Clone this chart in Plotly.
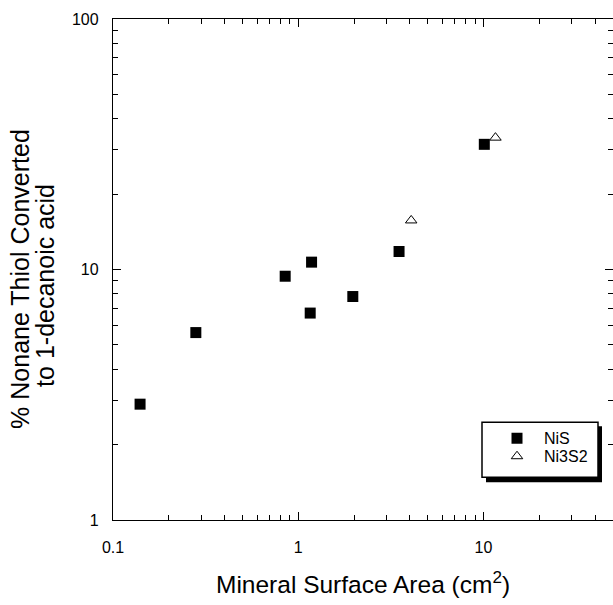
import numpy as np
import plotly.graph_objects as go

# ---- data ----
nis_area = [0.14, 0.28, 0.85, 1.16, 1.18, 1.97, 3.5, 10.1]
nis_pct = [2.9, 5.6, 9.4, 6.7, 10.7, 7.8, 11.8, 31.6]
ni3s2_area = [4.07, 11.6]
ni3s2_pct = [15.7, 33.6]

x_title = "Mineral Surface Area (cm<sup>2</sup>)"
y_title_lines = ["% Nonane Thiol Converted", "to 1-decanoic acid"]
x_range = [0.1, 50]
y_range = [1, 100]

FONT = "Liberation Sans, Arial, Helvetica, sans-serif"

W, H = 613, 605
L, R, T, B = 113, 0, 18.5, 85.3
plot_w = W - L - R
plot_h = H - T - B

def px_to_paper_x(px):
    return (px - L) / plot_w

def px_to_paper_y(py):
    return (H - B - py) / plot_h

fig = go.Figure()
fig.add_trace(go.Scatter(
    x=nis_area, y=nis_pct, mode="markers", name="NiS", legend="legend",
    marker=dict(symbol="square", size=11, color="black", line=dict(width=0)),
))
fig.add_trace(go.Scatter(
    x=ni3s2_area, y=ni3s2_pct, mode="markers", name="Ni3S2", legend="legend2",
    marker=dict(symbol="triangle-up-open", size=10, color="black", line=dict(width=1, color="black")),
))

axis_common = dict(
    type="log", showgrid=False, zeroline=False,
    showline=True, linecolor="black", linewidth=1.3, mirror="ticks",
    ticks="inside", ticklen=8, tickwidth=1, tickcolor="black",
    dtick=1,
    minor=dict(ticks="inside", ticklen=5, tickwidth=1, tickcolor="black", dtick="D1", showgrid=False),
    tickfont=dict(family=FONT, size=16, color="black"),
)

fig.update_xaxes(
    **axis_common,
    range=[np.log10(x_range[0]), np.log10(x_range[1])],
    tickvals=[0.1, 1, 10], ticktext=["0.1", "1", "10"],
    ticklabelstandoff=13,
)
fig.update_yaxes(
    **axis_common,
    range=[np.log10(y_range[0]), np.log10(y_range[1])],
    tickvals=[1, 10, 100], ticktext=["1", "10", "100"],
    ticklabelstandoff=10,
)

# x-axis title
fig.add_annotation(
    text=x_title, showarrow=False, xref="paper", yref="paper",
    x=px_to_paper_x(363), y=px_to_paper_y(600), xanchor="center", yanchor="bottom",
    font=dict(family=FONT, size=24.5, color="black"),
)

# y-axis title as two rotated lines
fig.add_annotation(
    text=y_title_lines[0], textangle=-90, showarrow=False,
    xref="paper", yref="paper",
    x=px_to_paper_x(20.5), y=px_to_paper_y(279), xanchor="center", yanchor="middle",
    font=dict(family=FONT, size=25, color="black"),
)
fig.add_annotation(
    text=y_title_lines[1], textangle=-90, showarrow=False,
    xref="paper", yref="paper",
    x=px_to_paper_x(45.5), y=px_to_paper_y(285), xanchor="center", yanchor="middle",
    font=dict(family=FONT, size=25, color="black"),
)

# legend frame with drop shadow
fig.add_shape(type="rect", xref="paper", yref="paper", layer="above",
              x0=px_to_paper_x(486), x1=px_to_paper_x(602),
              y0=px_to_paper_y(482), y1=px_to_paper_y(426),
              fillcolor="black", line=dict(width=0))
fig.add_shape(type="rect", xref="paper", yref="paper", layer="above",
              x0=px_to_paper_x(482), x1=px_to_paper_x(598),
              y0=px_to_paper_y(477), y1=px_to_paper_y(422),
              fillcolor="white", line=dict(width=1.5, color="black"))

legend_common = dict(
    xanchor="left", yanchor="top",
    bgcolor="rgba(0,0,0,0)", borderwidth=0,
    itemwidth=44,
    font=dict(family=FONT, size=16, color="black"),
)

fig.update_layout(
    width=W, height=H,
    margin=dict(l=L, r=R, t=T, b=B, pad=0),
    paper_bgcolor="white", plot_bgcolor="white",
    showlegend=True,
    legend=dict(x=px_to_paper_x(490), y=px_to_paper_y(421), **legend_common),
    legend2=dict(x=px_to_paper_x(490), y=px_to_paper_y(439), **legend_common),
)

fig.write_html("out.html", config={"displayModeBar": False},
               post_script="document.body.style.margin='0';")
